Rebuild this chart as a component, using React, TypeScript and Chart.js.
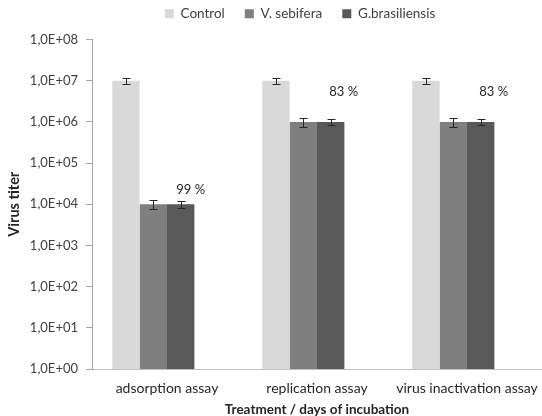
import React, { useEffect, useRef } from "react";
import { Chart, registerables } from "chart.js";

Chart.register(...registerables);

const categories = ["adsorption assay", "replication assay", "virus inactivation assay"];
const seriesNames = ["Control", "V. sebifera", "G.brasiliensis"];
const controlValues = [1e7, 1e7, 1e7];
const sebiferaValues = [1e4, 1e6, 1e6];
const brasiliensisValues = [1e4, 1e6, 1e6];
const emptySeries = [null, null, null];
const controlErrors = [1.5e6, 1.5e6, 1.5e6];
const sebiferaErrors = [2.5e3, 2.5e5, 2.5e5];
const brasiliensisErrors = [1.7e3, 1.7e5, 1.7e5];
const pctLabels = ["99 %", "83 %", "83 %"];
const yTickExponents = [0, 1, 2, 3, 4, 5, 6, 7, 8];

const colors = ["#d9d9d9", "#7f7f7f", "#595959"];
const FONT = "Lato, 'Open Sans', sans-serif";

const errorBarPlugin = {
  id: "errorBars",
  afterDatasetsDraw(chart: any) {
    const ctx = chart.ctx;
    const y = chart.scales.y;
    ctx.save();
    ctx.strokeStyle = "#262626";
    ctx.lineWidth = 1;
    chart.data.datasets.forEach((ds: any, di: number) => {
      if (!ds.errors) return;
      const meta = chart.getDatasetMeta(di);
      meta.data.forEach((bar: any, i: number) => {
        const v = ds.data[i];
        const e = ds.errors[i];
        const x = Math.round(bar.x) + 0.5;
        const top = Math.round(y.getPixelForValue(v + e)) + 0.5;
        const bot = Math.round(y.getPixelForValue(v - e)) + 0.5;
        ctx.beginPath();
        ctx.moveTo(x, top);
        ctx.lineTo(x, bot);
        ctx.moveTo(x - 4, top);
        ctx.lineTo(x + 4, top);
        ctx.moveTo(x - 4, bot);
        ctx.lineTo(x + 4, bot);
        ctx.stroke();
      });
    });
    ctx.restore();
  },
};

const pctLabelPlugin = {
  id: "pctLabels",
  afterDatasetsDraw(chart: any) {
    const ctx = chart.ctx;
    const meta = chart.getDatasetMeta(2);
    ctx.save();
    ctx.fillStyle = "#262626";
    ctx.font = `13px ${FONT}`;
    ctx.textAlign = "center";
    ctx.textBaseline = "middle";
    meta.data.forEach((bar: any, i: number) => {
      const dx = i === 0 ? 10 : 13;
      const dy = i === 0 ? 14 : 30;
      ctx.fillText(pctLabels[i], bar.x + dx, bar.y - dy);
    });
    ctx.restore();
  },
};

const legendTweak = {
  id: "legendTweak",
  beforeLayout(chart: any) {
    const lg = chart.legend;
    if (lg && !lg._patched) {
      const f = lg.fit.bind(lg);
      lg.fit = function () {
        f();
        this.height += 9;
      };
      lg._patched = true;
    }
  },
  afterLayout(chart: any) {
    const lg = chart.legend;
    if (lg) {
      lg.left += 26;
      lg.right += 26;
    }
  },
};

export default function App() {
  const ref = useRef<HTMLCanvasElement>(null);
  useEffect(() => {
    document.body.style.margin = "0";
    const chart = new Chart(ref.current!, {
      type: "bar",
      data: {
        labels: categories,
        datasets: [
          { label: seriesNames[0], data: controlValues, errors: controlErrors, backgroundColor: colors[0] } as any,
          { label: seriesNames[1], data: sebiferaValues, errors: sebiferaErrors, backgroundColor: colors[1] } as any,
          { label: seriesNames[2], data: brasiliensisValues, errors: brasiliensisErrors, backgroundColor: colors[2] } as any,
          { label: "", data: emptySeries, backgroundColor: "rgba(0,0,0,0)" } as any,
        ],
      },
      options: {
        animation: false,
        responsive: true,
        maintainAspectRatio: false,
        layout: { padding: { left: 6, right: 0, top: -13, bottom: -2 } },
        datasets: { bar: { categoryPercentage: 0.73, barPercentage: 1.0 } },
        plugins: {
          legend: {
            position: "top",
            labels: {
              boxWidth: 9,
              boxHeight: 9,
              padding: 20,
              color: "#404040",
              font: { family: FONT, size: 13.5 },
              filter: (item: any) => item.datasetIndex < 3,
            },
          },
          tooltip: { enabled: false },
        },
        scales: {
          x: {
            grid: { display: false },
            border: { display: true, color: "#bfbfbf" },
            ticks: { color: "#262626", font: { family: FONT, size: 14 }, padding: 3 },
            title: {
              display: true,
              text: "Treatment / days of incubation",
              color: "#262626",
              font: { family: FONT, size: 13.5, weight: "bold" },
              padding: { top: 2, bottom: 0 },
            },
          },
          y: {
            type: "logarithmic",
            min: 1,
            max: 1e8,
            afterBuildTicks(scale: any) {
              scale.ticks = yTickExponents.map((e) => ({ value: Math.pow(10, e) }));
            },
            afterFit(scale: any) {
              scale.width = 86;
            },
            grid: { drawOnChartArea: false, drawTicks: true, tickLength: 6, color: "#a6a6a6" },
            border: { display: true, color: "#a6a6a6" },
            ticks: {
              color: "#404040",
              font: { family: FONT, size: 13 },
              padding: 8,
              callback(value: any) {
                const e = Math.round(Math.log10(Number(value)));
                return "1,0E+" + String(e).padStart(2, "0");
              },
            },
            title: {
              display: true,
              text: "Virus titer",
              color: "#262626",
              font: { family: FONT, size: 14.5, weight: "bold" },
              padding: { top: 0, bottom: 0 },
            },
          },
        },
      } as any,
      plugins: [errorBarPlugin, pctLabelPlugin, legendTweak],
    });
    return () => chart.destroy();
  }, []);
  return (
    <div style={{ width: 542, height: 416, position: "relative" }}>
      <canvas ref={ref} />
    </div>
  );
}
